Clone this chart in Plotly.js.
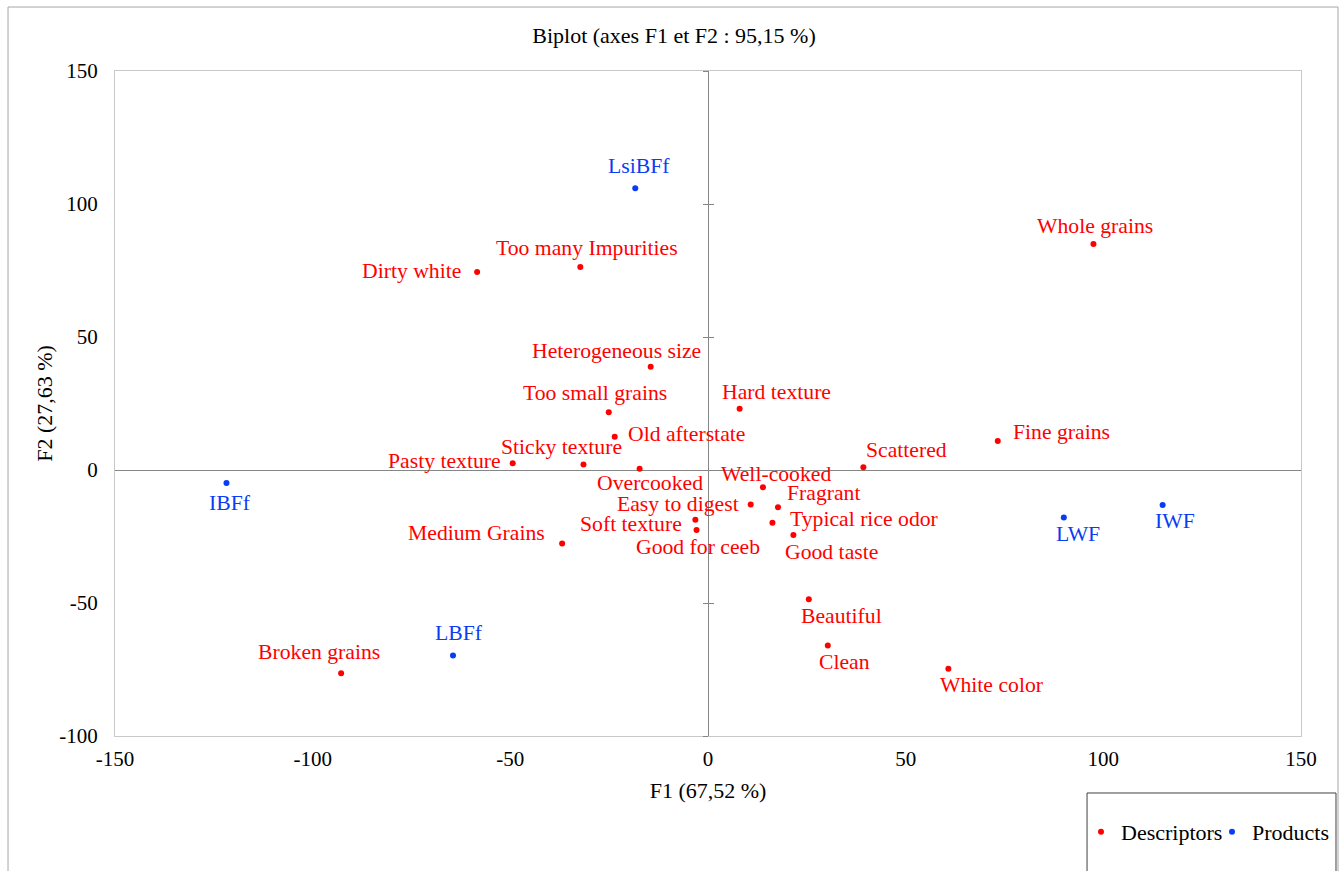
<!DOCTYPE html>
<html>
<head>
<meta charset="utf-8">
<script src="https://cdn.plot.ly/plotly-3.0.1.min.js"></script>
<style>html,body{margin:0;padding:0;background:#fff;}#chart{width:1340px;height:871px;}</style>
</head>
<body>
<div id="chart"></div>
<script>
// ---------- DATA ----------
const descLabels = ["Whole grains","Too many Impurities","Dirty white","Heterogeneous size","Too small grains",
  "Hard texture","Old afterstate","Fine grains","Sticky texture","Pasty texture","Scattered","Overcooked",
  "Well-cooked","Fragrant","Easy to digest","Typical rice odor","Soft texture","Good for ceeb","Good taste",
  "Medium Grains","Beautiful","Clean","White color","Broken grains"];
const descX = [97.5,-32.3,-58.4,-14.5,-25.1,8.0,-23.6,73.3,-31.5,-49.4,39.3,-17.3,
  13.9,17.7,10.8,16.3,-3.2,-2.9,21.6,-36.9,25.5,30.3,60.8,-92.8];
const descY = [85.0,76.3,74.4,38.8,21.7,23.0,12.5,10.9,2.1,2.5,1.0,0.5,
  -6.5,-14.0,-13.0,-19.8,-18.7,-22.6,-24.4,-27.6,-48.6,-66.0,-74.7,-76.4];

const prodLabels = ["LsiBFf","IBFf","LWF","IWF","LBFf"];
const prodX = [-18.4,-121.8,90.0,115.0,-64.5];
const prodY = [105.9,-4.9,-17.9,-13.2,-69.7];

const xTickVals = [-150,-100,-50,0,50,100,150];
const xTickText = ["-150","-100","-50","0","50","100","150"];
const yTickVals = [-100,-50,0,50,100,150];
const yTickText = ["-100","-50","0","50","100","150"];

// ---------- LABEL PLACEMENT (style) ----------
// [xanchor, xshift(px), yshift(px, up positive)]
const descLabelPos = [
  ["center",1.5,18],["center",7,19],["right",-14,1],["center",-34.5,16],["center",-14,19.5],
  ["center",37,17],["left",11,3],["left",13,9],["center",-22,17],["right",-10,2.5],["center",43,17],["center",10,-14],
  ["center",13,13],["left",7,14],["right",-10,1],["left",16,4],["right",-11,-4],["center",1.5,-17],["center",38.6,-17],
  ["right",-15,10],["center",32.5,-16.5],["center",17,-16],["center",44,-16],["center",-22,21.6]
];
const prodLabelPos = [
  ["center",4,22],["center",4,-20],["center",14,-16],["center",12,-16],["center",6,22]
];

const RED = "#ff0000";
const BLUE = "#0a3cf5";
const FONT = "Liberation Serif, Times New Roman, serif";
const FS = 22;
const LFS = 21.7;

const traces = [
  {type:"scatter", mode:"markers", name:"Descriptors", x:descX, y:descY, text:descLabels,
   marker:{color:RED, size:6}, hoverinfo:"text+x+y"},
  {type:"scatter", mode:"markers", name:"Products", x:prodX, y:prodY, text:prodLabels,
   marker:{color:BLUE, size:6}, hoverinfo:"text+x+y"},
  {type:"scatter", mode:"markers", x:[], y:[], yaxis:"y2", showlegend:false, hoverinfo:"skip"},
  {type:"scatter", mode:"markers", x:[], y:[], yaxis:"y3", showlegend:false, hoverinfo:"skip"}
];

const annotations = [];
function addLabels(labels, xs, ys, pos, color){
  labels.forEach((t,i)=>{
    annotations.push({x:xs[i], y:ys[i], xref:"x", yref:"y", text:t, showarrow:false,
      xanchor:pos[i][0], yanchor:"middle", xshift:pos[i][1], yshift:pos[i][2],
      font:{family:FONT, size:LFS, color:color}});
  });
}
addLabels(descLabels, descX, descY, descLabelPos, RED);
addLabels(prodLabels, prodX, prodY, prodLabelPos, BLUE);

const tickOverlay = (dir) => ({overlaying:"y", anchor:"free", position:0.5, range:[-100,150],
  tickmode:"array", tickvals:yTickVals, ticks:dir, ticklen:5, tickwidth:1, tickcolor:"#868686",
  showticklabels:false, showline:false, zeroline:false, showgrid:false, side:"left", fixedrange:true});

const layout = {
  width:1340, height:871,
  paper_bgcolor:"#ffffff", plot_bgcolor:"#ffffff",
  margin:{l:115, r:39, t:71, b:135, autoexpand:false},
  font:{family:FONT, size:FS, color:"#000"},
  title:{text:"Biplot (axes F1 et F2 : 95,15 %)", font:{family:FONT, size:FS, color:"#000"},
    x:0.503, xref:"container", xanchor:"center", y:1-35/871, yref:"container", yanchor:"middle"},
  xaxis:{range:[-150,150], tickmode:"array", tickvals:xTickVals, ticktext:xTickText,
    showgrid:false, zeroline:true, zerolinecolor:"#868686", zerolinewidth:1,
    showline:true, mirror:true, linecolor:"#c8c8c8", linewidth:1, ticks:"",
    ticklabelstandoff:4, tickfont:{family:FONT, size:21, color:"#000"},
    title:{text:"F1 (67,52 %)", font:{family:FONT, size:FS, color:"#000"}, standoff:12}},
  yaxis:{range:[-100,150], tickmode:"array", tickvals:yTickVals, ticktext:yTickText,
    showgrid:false, zeroline:true, zerolinecolor:"#868686", zerolinewidth:1,
    showline:true, mirror:true, linecolor:"#c8c8c8", linewidth:1, ticks:"",
    ticklabelstandoff:12, tickfont:{family:FONT, size:21, color:"#000"},
    title:{text:"F2 (27,63 %)", font:{family:FONT, size:FS, color:"#000"}, standoff:0}},
  yaxis2:tickOverlay("outside"),
  yaxis3:tickOverlay("inside"),
  showlegend:true,
  legend:{orientation:"h", x:0.8145, xanchor:"left", y:-0.1444, yanchor:"middle",
    bgcolor:"rgba(0,0,0,0)", borderwidth:0, font:{family:FONT, size:FS, color:"#000"},
    itemwidth:30, entrywidth:86, itemclick:false, itemdoubleclick:false},
  annotations:annotations,
  shapes:[
    {type:"rect", xref:"paper", yref:"paper", x0:-0.0902, x1:1.0312, y0:-0.2165, y1:1.0962,
     line:{color:"#a6a6a6", width:1}, fillcolor:"rgba(0,0,0,0)", layer:"below"},
    {type:"rect", xref:"paper", yref:"paper", x0:0.8196, x1:1.0295, y0:-0.2165, y1:-0.0857,
     line:{color:"#404040", width:1}, fillcolor:"rgba(0,0,0,0)"}
  ],
  hovermode:"closest"
};

Plotly.newPlot("chart", traces, layout, {displayModeBar:false, staticPlot:false});
</script>
</body>
</html>
